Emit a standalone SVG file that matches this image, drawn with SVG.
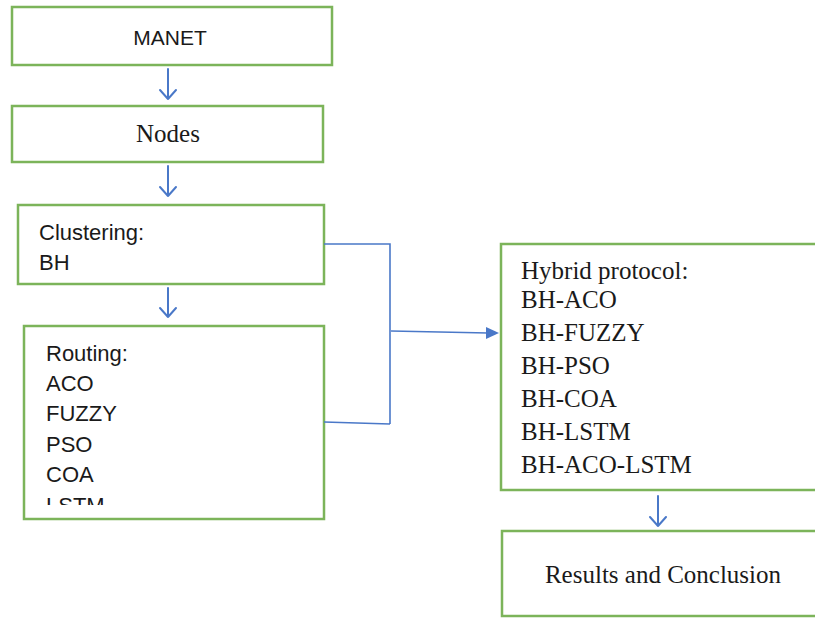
<svg xmlns="http://www.w3.org/2000/svg" width="815" height="618" viewBox="0 0 815 618">
<style>
.box{fill:#fff;stroke:#7cb45a;stroke-width:2.5}
.sans{font-family:"Liberation Sans","DejaVu Sans",sans-serif;font-size:22px;fill:#1a1a1a}
.serif{font-family:"Liberation Serif","DejaVu Serif",serif;font-size:25px;fill:#1a1a1a}
.conn{fill:none;stroke:#4a78c8;stroke-width:1.6}
.arr{fill:none;stroke:#4a78c8;stroke-width:2;stroke-linecap:round;stroke-linejoin:round}
</style>
<defs>
<clipPath id="rclip"><rect x="24" y="326" width="300" height="179"/></clipPath>
</defs>
<rect width="815" height="618" fill="#fff"/>
<g id="manet">
<rect class="box" x="12" y="7" width="320" height="58"/>
<text class="sans" x="170" y="45" text-anchor="middle" style="font-size:21px">MANET</text>
</g>
<g id="nodes">
<rect class="box" x="12" y="106" width="311" height="56"/>
<text class="serif" x="168" y="142" text-anchor="middle">Nodes</text>
</g>
<g id="clustering">
<rect class="box" x="18" y="205" width="306" height="79"/>
<text class="sans" x="39" y="240">Clustering:</text>
<text class="sans" x="39" y="270">BH</text>
</g>
<g id="routing">
<rect class="box" x="24" y="326" width="300" height="193"/>
<g clip-path="url(#rclip)">
<text class="sans" x="46" y="361">Routing:</text>
<text class="sans" x="46" y="391">ACO</text>
<text class="sans" x="46" y="421">FUZZY</text>
<text class="sans" x="46" y="452">PSO</text>
<text class="sans" x="46" y="482">COA</text>
<text class="sans" x="46" y="513">LSTM</text>
</g>
</g>
<g id="hybrid">
<rect class="box" x="501" y="244" width="330" height="246"/>
<text class="serif" x="521" y="279">Hybrid protocol:</text>
<text class="serif" x="521" y="308">BH-ACO</text>
<text class="serif" x="521" y="341">BH-FUZZY</text>
<text class="serif" x="521" y="374">BH-PSO</text>
<text class="serif" x="521" y="407">BH-COA</text>
<text class="serif" x="521" y="440">BH-LSTM</text>
<text class="serif" x="521" y="473">BH-ACO-LSTM</text>
</g>
<g id="results">
<rect class="box" x="502" y="531" width="330" height="85"/>
<text class="serif" x="663" y="583" text-anchor="middle">Results and Conclusion</text>
</g>
<g id="connectors">
<path class="arr" d="M168 69V99M160 90L168 99L176 90"/>
<path class="arr" d="M168 166V196M160 187L168 196L176 187"/>
<path class="arr" d="M168 288V317M160 308L168 317L176 308"/>
<path class="arr" d="M658 496V526M650 517L658 526L666 517"/>
<path class="conn" d="M324 244H390V424M324 422L390 424"/>
<path class="conn" d="M391 331L488 333" stroke-width="2.2"/>
<path d="M486 327L499 333L486 339Z" fill="#4a78c8"/>
</g>
</svg>
